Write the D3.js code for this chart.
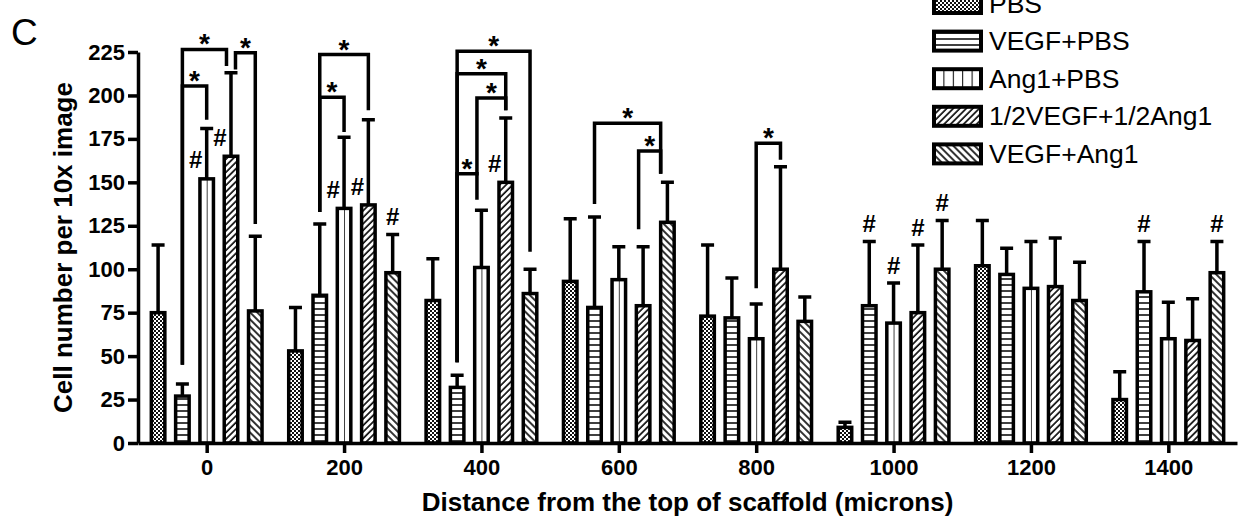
<!DOCTYPE html>
<html>
<head>
<meta charset="utf-8">
<script src="https://cdn.jsdelivr.net/npm/d3@7"></script>
<style>
  body { margin: 0; background: #fff; }
  svg { display: block; font-family: "Liberation Sans", Arial, sans-serif; }
</style>
</head>
<body>
<svg id="chart" width="1239" height="521"></svg>
<script>
// ---- data ----
const distances = [0, 200, 400, 600, 800, 1000, 1200, 1400];
const seriesNames = ["PBS", "VEGF+PBS", "Ang1+PBS", "1/2VEGF+1/2Ang1", "VEGF+Ang1"];
const yTicks = [0, 25, 50, 75, 100, 125, 150, 175, 200, 225];

// bar heights (mean) and upper end of the error bar, per distance
const meanPBS = [75, 53, 82, 93, 73, 9, 102, 25];
const topPBS = [114, 78, 106, 129, 114, 12, 128, 41];
const meanVegf = [27, 85, 32, 78, 72, 79, 97, 87];
const topVegf = [34, 126, 39, 130, 95, 116, 112, 116];
const meanAng1 = [152, 135, 101, 94, 60, 69, 89, 60];
const topAng1 = [181, 176, 134, 113, 80, 92, 116, 81];
const meanHalf = [165, 137, 150, 79, 100, 75, 90, 59];
const topHalf = [213, 186, 187, 113, 159, 114, 118, 83];
const meanCombo = [76, 98, 86, 127, 70, 100, 82, 98];
const topCombo = [119, 120, 100, 150, 84, 128, 104, 116];

const means = [meanPBS, meanVegf, meanAng1, meanHalf, meanCombo];
const tops = [topPBS, topVegf, topAng1, topHalf, topCombo];

// significance brackets: distance, left/right series, bracket level and leg ends (cell number)
const brackets = [
  { d: 0, a: 1, b: 3, level: 226.5, aEnd: 46, bEnd: 218, bShift: -1 },
  { d: 0, a: 1, b: 2, level: 205.5, aEnd: 46, bEnd: 187 },
  { d: 0, a: 3, b: 4, level: 224.5, aEnd: 216, bEnd: 127, aShift: 1 },
  { d: 200, a: 1, b: 3, level: 223.5, aEnd: 134, bEnd: 192.5 },
  { d: 200, a: 1, b: 2, level: 199, aEnd: 134, bEnd: 180 },
  { d: 400, a: 1, b: 4, level: 225.5, aEnd: 47.5, bEnd: 111 },
  { d: 400, a: 1, b: 3, level: 212.5, aEnd: 47.5, bEnd: 192.5 },
  { d: 400, a: 2, b: 3, level: 198.5, aEnd: 141, bEnd: 192.5, aShift: -1 },
  { d: 400, a: 1, b: 2, level: 155, aEnd: 47.5, bEnd: 155, bShift: -1 },
  { d: 600, a: 1, b: 4, level: 184, aEnd: 138.5, bEnd: 156, bShift: -1.5 },
  { d: 600, a: 3, b: 4, level: 168, aEnd: 124, bEnd: 156, aShift: -1, bShift: -1.5 },
  { d: 800, a: 2, b: 3, level: 172.5, aEnd: 90, bEnd: 164 }
];

// "#" marks: distance, series, placement
const hashes = [
  [0, 2, "side"], [0, 3, "side"], [200, 2, "side"], [200, 3, "side"], [200, 4, "top"],
  [400, 3, "side"], [1000, 1, "top"], [1000, 2, "top"], [1000, 3, "top"], [1000, 4, "top"],
  [1400, 1, "top"], [1400, 4, "top"]
];

// ---- scales ----
const svg = d3.select("#chart");
const x = d3.scaleLinear().domain([-100, 1500]).range([138, 1237]);
const y = d3.scaleLinear().domain([0, 225]).range([443, 52]);
const x1 = d3.scaleBand().domain(d3.range(seriesNames.length))
  .range([-60.75, 60.75]).paddingInner(0.3).paddingOuter(0.15);
const bw = x1.bandwidth();
const cx = (d, s) => x(d) + x1(s) + bw / 2;
const SW = 3.5;

// ---- fill patterns ----
const defs = svg.append("defs");
const dots = defs.append("pattern").attr("id", "p0")
  .attr("patternUnits", "userSpaceOnUse").attr("width", 4).attr("height", 4);
dots.append("rect").attr("width", 4).attr("height", 4).attr("fill", "#fff");
dots.append("rect").attr("width", 2).attr("height", 2).attr("fill", "#111");
dots.append("rect").attr("x", 2).attr("y", 2).attr("width", 2).attr("height", 2).attr("fill", "#111");

const hl = defs.append("pattern").attr("id", "p1")
  .attr("patternUnits", "userSpaceOnUse").attr("width", 6).attr("height", 6);
hl.append("rect").attr("width", 6).attr("height", 6).attr("fill", "#fff");
hl.append("line").attr("x1", 0).attr("x2", 6).attr("y1", 3).attr("y2", 3)
  .attr("stroke", "#000").attr("stroke-width", 1.5);

// vertical lines: one line down the middle of each bar
const vl = defs.append("pattern").attr("id", "p2")
  .attr("patternUnits", "objectBoundingBox").attr("width", 0.5).attr("height", 1);
vl.append("rect").attr("width", 100).attr("height", 1000).attr("fill", "#fff");
vl.append("line").attr("x1", 0).attr("x2", 0).attr("y1", 0).attr("y2", 1000)
  .attr("stroke", "#000").attr("stroke-width", 1.5);

function diag(id, angle, gap) {
  const p = defs.append("pattern").attr("id", id)
    .attr("patternUnits", "userSpaceOnUse").attr("width", gap).attr("height", gap)
    .attr("patternTransform", `rotate(${angle})`);
  p.append("rect").attr("width", gap).attr("height", gap).attr("fill", "#fff");
  p.append("line").attr("x1", 1).attr("x2", 1).attr("y1", 0).attr("y2", gap)
    .attr("stroke", "#000").attr("stroke-width", 1.6);
}
diag("p3", 45, 4.6);
diag("p4", -45, 5);

// ---- bars ----
const barData = [];
seriesNames.forEach((name, s) => {
  distances.forEach((d, i) => barData.push({ d, s, mean: means[s][i], top: tops[s][i] }));
});

const plot = svg.append("g");

// error bars first so the bar outline sits on top
plot.selectAll(".err").data(barData).enter().append("path")
  .attr("class", "err")
  .attr("d", b => {
    const c = cx(b.d, b.s);
    return `M${c},${y(b.mean)}V${y(b.top)}M${c - 6.5},${y(b.top)}H${c + 6.5}`;
  })
  .attr("stroke", "#000").attr("stroke-width", SW).attr("fill", "none");

plot.selectAll(".bar").data(barData).enter().append("rect")
  .attr("class", "bar")
  .attr("x", b => cx(b.d, b.s) - bw / 2 + SW / 2)
  .attr("width", bw - SW)
  .attr("y", b => y(b.mean))
  .attr("height", b => y(0) - y(b.mean))
  .attr("fill", b => `url(#p${b.s})`)
  .attr("stroke", "#000").attr("stroke-width", SW);

// ---- axes ----
const xAxis = svg.append("g").attr("transform", `translate(0,${y(0)})`)
  .call(d3.axisBottom(x).tickValues(distances).tickFormat(d3.format("d"))
    .tickSize(10).tickSizeOuter(0).tickPadding(6));
const yAxis = svg.append("g").attr("transform", `translate(${x(-100)},0)`)
  .call(d3.axisLeft(y).tickValues(yTicks).tickSize(10).tickSizeOuter(0).tickPadding(3));
[xAxis, yAxis].forEach(g => {
  g.selectAll(".domain, .tick line").attr("stroke", "#000").attr("stroke-width", SW);
  g.selectAll("text").attr("fill", "#000").attr("font-size", 22).attr("font-weight", "bold")
    .attr("font-family", "Liberation Sans, Arial, sans-serif");
});

// ---- brackets and stars ----
const SHIFT = 4.5;
brackets.forEach(k => {
  const xa = cx(k.d, k.a) + (k.aShift || 0) * SHIFT;
  const xb = cx(k.d, k.b) + (k.bShift || 0) * SHIFT;
  svg.append("path")
    .attr("d", `M${xa},${y(k.aEnd)}V${y(k.level)}H${xb}V${y(k.bEnd)}`)
    .attr("fill", "none").attr("stroke", "#000").attr("stroke-width", SW)
    .attr("stroke-linejoin", "miter").attr("stroke-linecap", "square");
  svg.append("text")
    .attr("x", (xa + xb) / 2)
    .attr("y", y(k.level) - 12 + 0.57 * 28)
    .attr("text-anchor", "middle").attr("font-size", 28).attr("font-weight", "bold")
    .text("*");
});

hashes.forEach(([d, s, where]) => {
  const i = distances.indexOf(d);
  const hx = where === "side" ? cx(d, s) - 11 : cx(d, s);
  const hy = where === "side" ? y(means[s][i]) - 19 : y(tops[s][i]) - 18;
  svg.append("text")
    .attr("x", hx).attr("y", hy + 0.36 * 24)
    .attr("text-anchor", "middle").attr("font-size", 24).attr("font-weight", "bold")
    .text("#");
});

// ---- axis titles, panel letter ----
svg.append("text")
  .attr("transform", `translate(63,${(y(0) + y(225)) / 2}) rotate(-90)`)
  .attr("text-anchor", "middle").attr("dy", "0.35em")
  .attr("font-size", 26).attr("font-weight", "bold")
  .text("Cell number per 10x image");

svg.append("text")
  .attr("x", (x(-100) + x(1500)) / 2).attr("y", 511)
  .attr("text-anchor", "middle").attr("font-size", 26).attr("font-weight", "bold")
  .text("Distance from the top of scaffold (microns)");

svg.append("text").attr("x", 11).attr("y", 45).attr("font-size", 37).text("C");

// ---- legend ----
const lvl = defs.append("pattern").attr("id", "p2legend")
  .attr("patternUnits", "userSpaceOnUse").attr("x", 934).attr("width", 9.4).attr("height", 50);
lvl.append("rect").attr("width", 9.4).attr("height", 50).attr("fill", "#fff");
lvl.append("line").attr("x1", 0).attr("x2", 0).attr("y1", 0).attr("y2", 50)
  .attr("stroke", "#000").attr("stroke-width", 2);

const legend = svg.append("g");
seriesNames.forEach((name, s) => {
  const cy = 3.5 + s * 37.6;
  legend.append("rect")
    .attr("x", 934).attr("y", cy - 9.5).attr("width", 47).attr("height", 19)
    .attr("fill", s === 2 ? "url(#p2legend)" : `url(#p${s})`)
    .attr("stroke", "#000").attr("stroke-width", 4);
  legend.append("text")
    .attr("x", 989).attr("y", cy + 9)
    .attr("font-size", 26.5)
    .text(name);
});
</script>
</body>
</html>
